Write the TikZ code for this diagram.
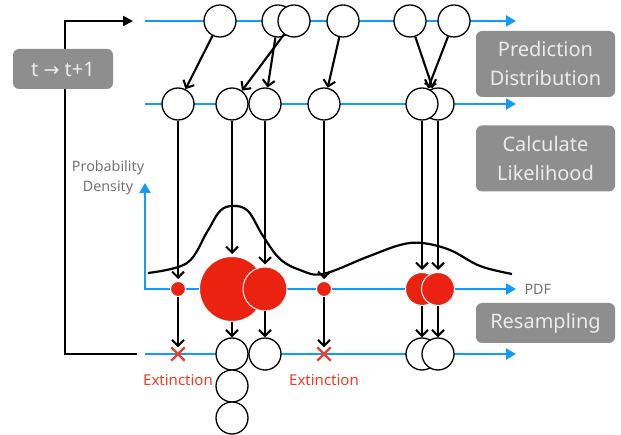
\documentclass[tikz,border=0pt]{standalone}
\usepackage{fontspec}
\setmainfont{Noto Sans}
\newfontfamily\symfont{DejaVu Sans}
\usetikzlibrary{arrows.meta,positioning,shapes.misc}
\definecolor{lineblue}{RGB}{20,155,250}
\definecolor{pfred}{RGB}{236,34,16}
\definecolor{extred}{RGB}{238,60,40}
\definecolor{boxgray}{RGB}{142,142,142}
\definecolor{labelgray}{RGB}{115,115,115}
\tikzset{
    particle/.style={circle,draw,line width=1.3pt,fill=white,minimum size=32pt,inner sep=0pt},
    weight/.style={circle,fill=pfred,draw=white,line width=1pt,inner sep=0pt},
    axis/.style={lineblue,line width=2.6pt},
    move/.style={line width=2.1pt,-{Straight Barb[length=6pt,width=12pt,line width=2.1pt]}},
    stepbox/.style={rounded corners=6pt,fill=boxgray,text=white!92!black,align=center,minimum width=139pt,font=\fontsize{20}{29}\selectfont},
    extinct/.style={cross out,draw=extred,line width=2.4pt,minimum size=11pt,inner sep=0pt},
    note/.style={text=labelgray,align=center,font=\fontsize{14.3}{20}\selectfont},
}
\begin{document}
\begin{tikzpicture}[x=1pt,y=-1pt]
    \useasboundingbox (0,0) rectangle (621,435);
    % time axes
    \foreach \y/\n in {21/top,104/pred,289/pdf,354/res}{%
        \coordinate (\n-l) at (145,\y);
        \coordinate (\n-r) at (516,\y);
    }
    \coordinate (ytip) at (145,183);
    \draw[axis,-{Triangle[length=10pt,width=11pt]}] (top-l) -- (top-r);
    \draw[axis,-{Triangle[length=10pt,width=11pt]}] (pred-l) -- (pred-r);
    \draw[axis,-{Triangle[length=10pt,width=11pt]}] (res-l) -- (res-r);
    \draw[axis,{Triangle[length=10pt,width=11pt]}-{Triangle[length=10pt,width=11pt]}] (ytip) -- (pdf-l) -- (pdf-r);
    \node[note] (dens) at (108,178) {Probability\\Density};
    \node[note,anchor=west] (pdf) at (521,289) {PDF};
    % likelihood curve
    \draw[line width=2.2pt] plot[smooth,tension=0.6] coordinates {(148,273) (187,263) (207,232) (220,211) (233,206) (248,211) (263,236) (280,259) (300,270) (323,274) (367,257) (400,245) (422,243) (450,250) (480,266) (512,274)};
    % feedback t -> t+1
    \coordinate (back-in) at (137,354);
    \coordinate (back-out) at (133,21);
    \draw[line width=2.2pt,-{Triangle[length=10pt,width=10pt]}] (back-in) -- (65,354) -- (65,21) -- (back-out);
    \node[stepbox,minimum width=100pt,minimum height=40pt] (tbox) at (63,69) {t {\symfont\fontsize{19}{20}\selectfont→} t+1};
    % particles at time t
    \foreach \x/\i in {220/1,278/2,294/3,343/4,410/5,454/6}{%
        \node[particle] (t\i) at (\x,21) {};
    }
    % predicted particles
    \foreach \x/\i in {178/1,232/2,265/3,324/4,438/6,422/5}{%
        \node[particle] (p\i) at (\x,104) {};
    }
    % weighted particles
    \foreach \x/\s/\i in {178/15/1,232/65/2,265/44/3,324/15/4,422/33/5,438/33/6}{%
        \node[weight,minimum size=\s pt] (w\i) at (\x,289) {};
    }
    % resampled particles
    \foreach \x/\i in {232/1,265/2,422/3,438/4}{%
        \node[particle] (r\i) at (\x,354) {};
    }
    \node[particle,below=-1.3pt of r1] (s1) {};
    \node[particle,below=-1.3pt of s1] (s2) {};
    \node[extinct] (x1) at (178,354) {};
    \node[extinct] (x2) at (324,354) {};
    \node[text=extred,font=\fontsize{15}{16}\selectfont] (e1) at (178,380) {Extinction};
    \node[text=extred,font=\fontsize{15}{16}\selectfont] (e2) at (324,380) {Extinction};
    % prediction step
    \foreach \a/\b in {1/1,2/3,3/2,4/4,5/6,6/5}{%
        \draw[move] (t\a) -- (p\b);
    }
    % likelihood step
    \foreach \i in {1,...,6}{%
        \draw[move,shorten >=2pt] (p\i) -- (w\i);
    }
    % resampling step
    \foreach \a/\b in {1/x1,2/r1,3/r2,4/x2,5/r3,6/r4}{%
        \draw[move] (w\a) -- (\b);
    }
    % step labels
    \node[stepbox,minimum height=66pt] (predict) at (545.5,64) {Prediction\\Distribution};
    \node[stepbox,minimum height=66pt] (likely) at (545.5,158.5) {Calculate\\Likelihood};
    \node[stepbox,minimum height=40pt] (resample) at (545.5,323) {Resampling};
\end{tikzpicture}
\end{document}
